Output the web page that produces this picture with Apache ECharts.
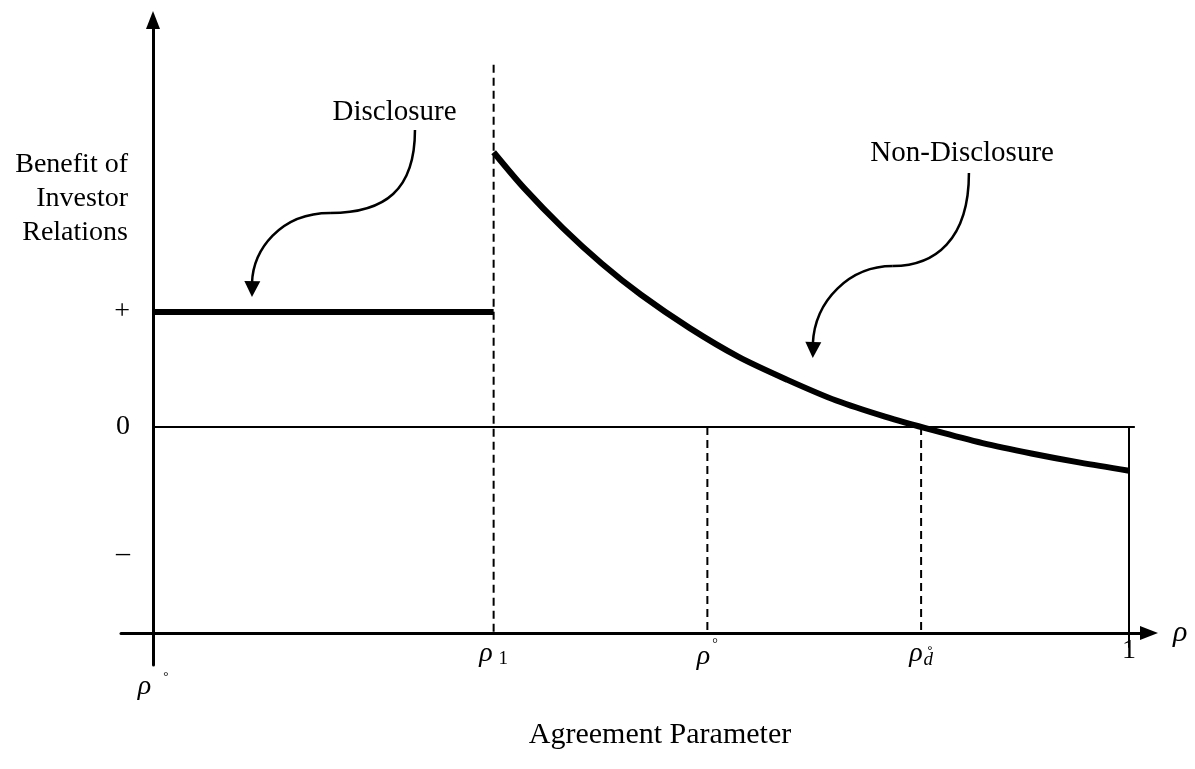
<!DOCTYPE html>
<html><head><meta charset="utf-8">
<script src="https://cdn.jsdelivr.net/npm/echarts@6/dist/echarts.min.js"></script>
<style>html,body{margin:0;padding:0;background:#fff}#c{width:1195px;height:769px}</style>
</head><body><div id="c"></div>
<script>
const SERIF = 'Liberation Serif';
// x positions (agreement parameter)
const rhoOrigin = 0;
const rho1 = 0.349;
const rhoStar = 0.568;
const rhoD = 0.787;
const rhoMax = 1;
const xTickValues = [rhoOrigin, rho1, rhoStar, rhoD, rhoMax];
const xTickLabels = ['{o|ρ}{og|°}', '{r|ρ}{sub|1}', '{r|ρ}{sup|°}', '{r|ρ}{sd|d\u030A}', '{n|1}'];
// y levels
const yTickValues = [1, 0, -1.1];
const yTickLabels = ['+', '0', '–'];
const axisBaseY = -1.791;
// disclosure benefit
const disclosureX = [0, 0.349];
const disclosureY = [1, 1];
// non-disclosure benefit
const nonDisclosureX = [0.349, 0.38, 0.42, 0.46, 0.50, 0.55, 0.60, 0.65, 0.70, 0.75, 0.80, 0.85, 0.90, 0.95, 1.00];
const nonDisclosureY = [2.39, 2.08, 1.73, 1.42, 1.15, 0.86, 0.61, 0.41, 0.23, 0.09, -0.03, -0.14, -0.23, -0.31, -0.38];
// reference lines
const rho1DashTop = 3.15;
const zeroLineEnd = 1.006;
const rightEdgeBottom = -1.92;
// annotations (data units)
const disclosureLabel = {text: 'Disclosure', x: 0.2475, y: 2.74};
const nonDisclosureLabel = {text: 'Non-Disclosure', x: 0.829, y: 2.38};
const disclosureArrow = [
  [[0.2684, 2.583], [0.2684, 2.061], [0.2377, 1.861], [0.1814, 1.861]],
  [[0.1814, 1.861], [0.1301, 1.861], [0.1025, 1.539], [0.1014, 1.25]]
];
const disclosureTip = [0.1014, 1.13];
const nonDisclosureArrow = [
  [[0.836, 2.209], [0.836, 1.626], [0.801, 1.40], [0.758, 1.40]],
  [[0.758, 1.40], [0.714, 1.40], [0.678, 1.104], [0.676, 0.72]]
];
const nonDisclosureTip = [0.676, 0.60];

const chart = echarts.init(document.getElementById('c'), null, {renderer: 'canvas'});
const pairs = (xs, ys) => xs.map((x, i) => [x, ys[i]]);
const dash = [8, 5];
function vline(x, y0, y1, type, w) {
  return {type: 'line', data: [[x, y0], [x, y1]], symbol: 'none', silent: true, animation: false,
    lineStyle: {color: '#000', width: w, type: type}};
}
const option = {
  backgroundColor: '#fff',
  animation: false,
  grid: {left: 121, right: 46, top: 20, bottom: 104, containLabel: false},
  xAxis: {
    type: 'value', min: -0.0328, max: 1.0205,
    axisLine: {onZero: false, symbol: ['none', 'triangle'], symbolSize: [14, 18], lineStyle: {color: '#000', width: 3}},
    offset: -32,
    splitLine: {show: false}, axisTick: {show: false},
    name: 'ρ', nameLocation: 'end', nameGap: 24,
    nameTextStyle: {fontFamily: SERIF, fontStyle: 'italic', fontSize: 30, color: '#000', verticalAlign: 'middle'},
    axisLabel: {
      customValues: xTickValues, margin: 4, color: '#000', fontFamily: SERIF,
      formatter: v => xTickLabels[xTickValues.indexOf(v)],
      rich: {
        r: {fontFamily: SERIF, fontStyle: 'italic', fontSize: 28, color: '#000', padding: [3, 0, 4, 0]},
        sub: {fontFamily: SERIF, fontSize: 19, color: '#000', padding: [10, 0, 0, 6]},
        sup: {fontFamily: SERIF, fontSize: 14, color: '#000', padding: [0, 0, 26, 2]},
        sd: {fontFamily: SERIF, fontStyle: 'italic', fontSize: 19, color: '#000', padding: [10, 0, 0, 1]},
        n: {fontFamily: SERIF, fontSize: 28, color: '#000', padding: [0, 0, 6, 0]},
        o: {fontFamily: SERIF, fontStyle: 'italic', fontSize: 28, color: '#000', padding: [36, 0, 0, 0]},
        og: {fontFamily: SERIF, fontSize: 13, color: '#000', padding: [16, 0, 0, 12]}
      }
    }
  },
  yAxis: {
    type: 'value', min: -2.07, max: 3.54,
    axisLine: {onZero: false, symbol: ['none', 'triangle'], symbolSize: [14, 18], lineStyle: {color: '#000', width: 3}},
    offset: -32,
    splitLine: {show: false}, axisTick: {show: false},
    axisLabel: {
      customValues: yTickValues, margin: 23, color: '#000', fontFamily: SERIF, fontSize: 28,
      formatter: v => yTickLabels[yTickValues.indexOf(v)]
    }
  },
  series: [
    {type: 'line', data: [[0, 0], [zeroLineEnd, 0]], symbol: 'none', silent: true, lineStyle: {color: '#000', width: 2}},
    vline(rhoMax, 0, rightEdgeBottom, 'solid', 2),
    vline(rho1, rho1DashTop, axisBaseY, dash, 2),
    vline(rhoStar, 0, axisBaseY, dash, 2),
    vline(rhoD, 0, axisBaseY, dash, 2),
    {type: 'line', data: pairs(disclosureX, disclosureY), symbol: 'none', silent: true, lineStyle: {color: '#000', width: 6, cap: 'butt'}, z: 5},
    {type: 'line', data: pairs(nonDisclosureX, nonDisclosureY), smooth: 0.3, symbol: 'none', silent: true, lineStyle: {color: '#000', width: 6, cap: 'butt'}, z: 5}
  ]
};
chart.setOption(option);

function px(p) { return chart.convertToPixel({gridIndex: 0}, p); }
function bez(seg) {
  const a = px(seg[0]), b = px(seg[1]), c = px(seg[2]), d = px(seg[3]);
  return {type: 'bezierCurve', silent: true,
    shape: {x1: a[0], y1: a[1], cpx1: b[0], cpy1: b[1], cpx2: c[0], cpy2: c[1], x2: d[0], y2: d[1]},
    style: {stroke: '#000', lineWidth: 2.5, fill: null}};
}
function head(from, tip) {
  const e = px(from), t = px(tip);
  const dx = t[0] - e[0], dy = t[1] - e[1], L = Math.hypot(dx, dy);
  const ux = dx / L, uy = dy / L, len = 16, w = 8;
  const bx = t[0] - ux * len, by = t[1] - uy * len;
  return {type: 'polygon', silent: true,
    shape: {points: [[t[0], t[1]], [bx - uy * w, by + ux * w], [bx + uy * w, by - ux * w]]},
    style: {fill: '#000'}};
}
function label(l) {
  const p = px([l.x, l.y]);
  return {type: 'text', x: p[0], y: p[1], silent: true,
    style: {text: l.text, fontFamily: SERIF, fontSize: 29, fill: '#000', align: 'center', verticalAlign: 'middle'}};
}
const graphics = [];
disclosureArrow.forEach(s => graphics.push(bez(s)));
graphics.push(head(disclosureArrow[1][2], disclosureTip));
nonDisclosureArrow.forEach(s => graphics.push(bez(s)));
graphics.push(head(nonDisclosureArrow[1][2], nonDisclosureTip));
graphics.push(label(disclosureLabel));
graphics.push(label(nonDisclosureLabel));
graphics.push({type: 'text', x: 128, y: 148, silent: true,
  style: {text: 'Benefit of\nInvestor\nRelations', fontFamily: SERIF, fontSize: 28, lineHeight: 34, fill: '#000', align: 'right', verticalAlign: 'top'}});
graphics.push({type: 'text', x: 660, y: 735, silent: true,
  style: {text: 'Agreement Parameter', fontFamily: SERIF, fontSize: 30, fill: '#000', align: 'center', verticalAlign: 'middle'}});
chart.setOption({graphic: graphics});
</script></body></html>
